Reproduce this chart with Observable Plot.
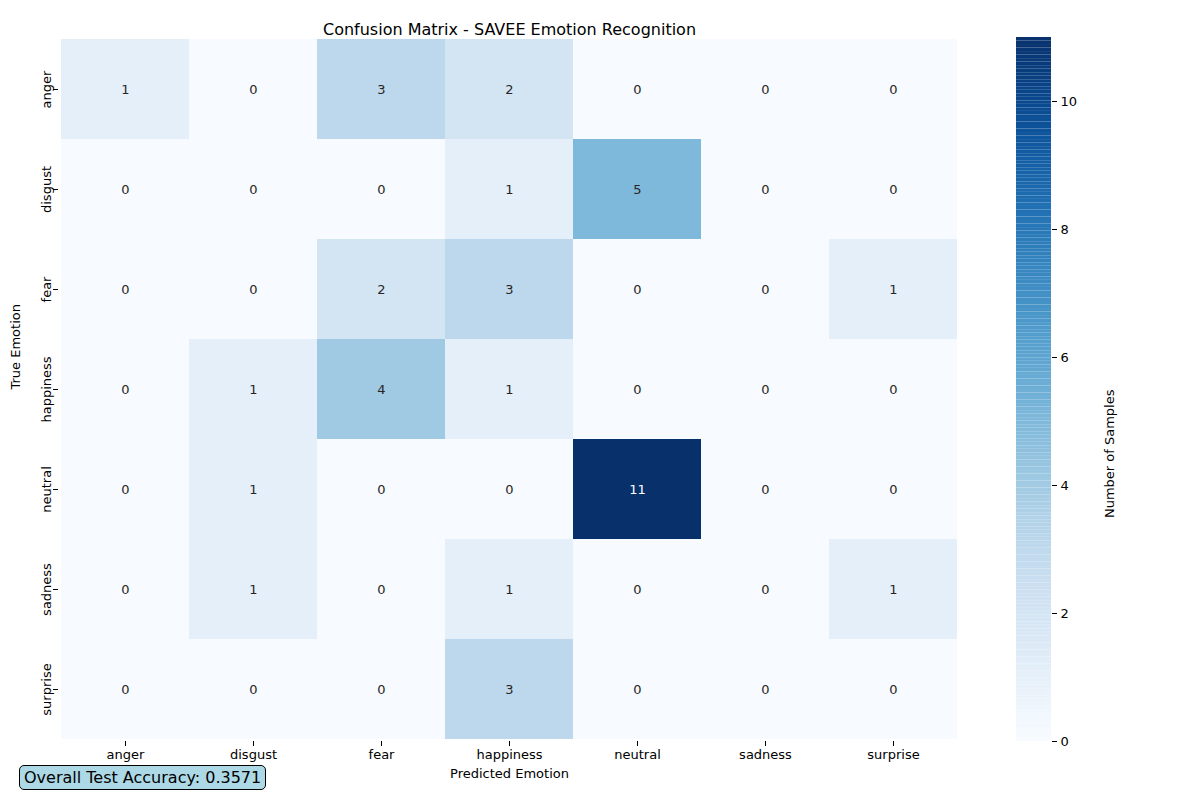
<!DOCTYPE html>
<html>
<head>
<meta charset="UTF-8">
<script src="https://cdn.jsdelivr.net/npm/d3@7"></script>
<script src="https://cdn.jsdelivr.net/npm/@observablehq/plot@0.6"></script>
<style>
  body { margin: 0; font-family: "DejaVu Sans", sans-serif; background: #fff; }
  #wrap { position: relative; width: 1200px; height: 800px; }
  #main, #bar { position: absolute; top: 0; }
  #main { left: 0; }
  #bar { left: 990px; }
  #acc { position: absolute; left: 19px; top: 765px; background: #add8e6; border: 1px solid #000;
         border-radius: 5px; padding: 2px 4px; font-size: 16px; }
</style>
</head>
<body>
<div id="wrap">
  <div id="main"></div>
  <div id="bar"></div>
  <div id="acc">Overall Test Accuracy: 0.3571</div>
</div>
<script>
const emotions = ["anger", "disgust", "fear", "happiness", "neutral", "sadness", "surprise"];
const matrix = [
  [1, 0, 3, 2, 0, 0, 0],
  [0, 0, 0, 1, 5, 0, 0],
  [0, 0, 2, 3, 0, 0, 1],
  [0, 1, 4, 1, 0, 0, 0],
  [0, 1, 0, 0, 11, 0, 0],
  [0, 1, 0, 1, 0, 0, 1],
  [0, 0, 0, 3, 0, 0, 0]
];
const maxVal = 11;
const barTicks = [0, 2, 4, 6, 8, 10];

const cells = [];
matrix.forEach((row, i) => row.forEach((v, j) => cells.push({ t: emotions[i], p: emotions[j], v })));

const main = Plot.plot({
  width: 1200, height: 800,
  marginLeft: 58, marginRight: 240, marginTop: 37, marginBottom: 59,
  style: { fontFamily: "DejaVu Sans", fontSize: "13px", background: "transparent" },
  x: { domain: emotions, padding: 0, label: null },
  y: { domain: emotions, padding: 0, label: null },
  color: { type: "linear", scheme: "blues", domain: [0, maxVal] },
  marks: [
    Plot.cell(cells, { x: "p", y: "t", fill: "v", inset: 0 }),
    Plot.text(cells, { x: "p", y: "t", text: "v", fontSize: 13,
      fill: d => d.v > maxVal / 2 ? "white" : "#262626" }),
    Plot.axisX({ tickSize: 5, fontSize: 13, tickPadding: 3 }),
    Plot.axisY({ tickSize: 5, fontSize: 13, tickRotate: -90, tickPadding: 3 }),
    Plot.text(["Confusion Matrix - SAVEE Emotion Recognition"], { frameAnchor: "top", dy: -14, fontSize: 16, fill: "black" }),
    Plot.text(["Predicted Emotion"], { frameAnchor: "bottom", dy: 36, fontSize: 13, fill: "black" }),
    Plot.text(["True Emotion"], { frameAnchor: "left", dx: -43, rotate: -90, fontSize: 13, fill: "black" })
  ]
});
document.getElementById("main").append(main);

const steps = d3.range(0, maxVal, maxVal / 200).map(v => ({ y1: v, y2: v + maxVal / 200 }));
const bar = Plot.plot({
  width: 210, height: 800,
  marginLeft: 26, marginRight: 149, marginTop: 37, marginBottom: 59,
  style: { fontFamily: "DejaVu Sans", fontSize: "13px", background: "transparent" },
  x: { axis: null, domain: [0, 1] },
  y: { domain: [0, maxVal], ticks: barTicks, label: null },
  color: { type: "linear", scheme: "blues", domain: [0, maxVal] },
  marks: [
    Plot.rect(steps, { x1: 0, x2: 1, y1: "y1", y2: "y2", fill: "y1" }),
    Plot.axisY({ anchor: "right", ticks: barTicks, tickSize: 5, fontSize: 13, label: null }),
    Plot.text(["Number of Samples"], { frameAnchor: "right", dx: 58, rotate: -90, fontSize: 13, fill: "black" })
  ]
});
document.getElementById("bar").append(bar);
</script>
</body>
</html>
